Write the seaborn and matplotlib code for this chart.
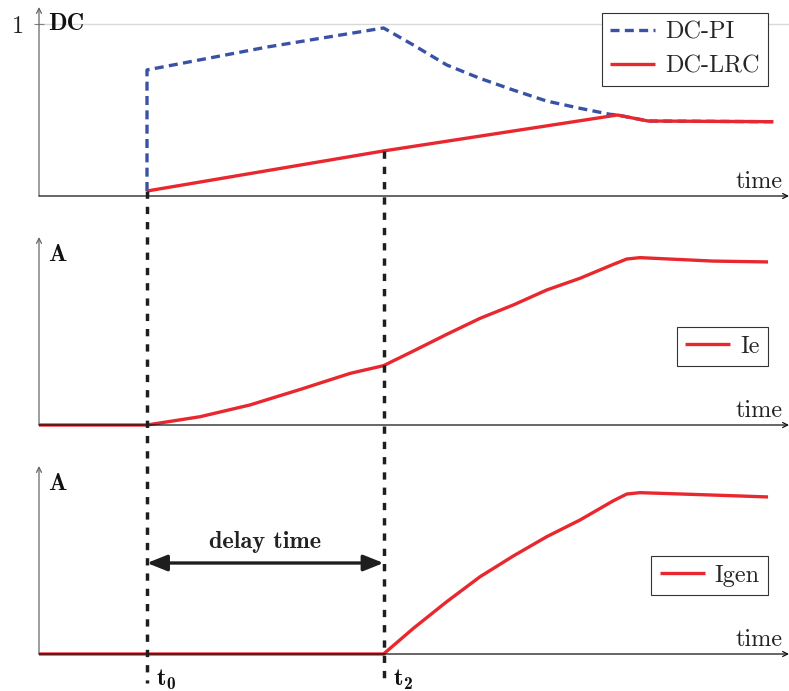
import matplotlib
matplotlib.use("Agg")
import matplotlib.pyplot as plt
import seaborn as sns

# ---- switching instants and time span (arbitrary time units) ----
t0 = 1.0
t2 = 3.19
t_end = 6.944

# ---- duty cycle ----
dc_pi_time = [1.0, 1.0, 2.11, 3.19, 3.466, 3.775, 4.083, 4.392, 4.701, 5.009,
              5.287, 5.355, 5.64, 6.80]
dc_pi = [0.029, 0.733, 0.866, 0.977, 0.878, 0.762, 0.684, 0.616, 0.552, 0.510,
         0.475, 0.471, 0.436, 0.432]
dc_lrc_time = [1.0, 3.19, 5.355, 5.64, 6.80]
dc_lrc = [0.029, 0.262, 0.471, 0.436, 0.432]

# ---- excitation current ----
ie_time = [0.0, 1.0, 1.49, 1.95, 2.42, 2.88, 3.19, 3.466, 3.775, 4.083, 4.392,
           4.701, 5.009, 5.318, 5.442, 5.565, 6.24, 6.75]
ie = [0.0, 0.0, 0.048, 0.116, 0.207, 0.300, 0.345, 0.430, 0.527, 0.620, 0.698,
      0.785, 0.853, 0.934, 0.965, 0.973, 0.953, 0.948]

# ---- generator current ----
igen_time = [0.0, 3.19, 3.466, 3.775, 4.083, 4.392, 4.701, 5.009, 5.318, 5.442,
             5.565, 6.24, 6.75]
igen = [0.0, 0.0, 0.149, 0.304, 0.449, 0.570, 0.682, 0.779, 0.891, 0.930,
        0.938, 0.924, 0.913]

# ---- text ----
dc_label = "DC"
amp_label = "A"
time_label = "time"
delay_label = "delay time"
instant_labels = [("t", "0"), ("t", "2")]

RED = "#e8282e"
BLUE = "#3a52a5"
DARK = "#1e1e1e"
FS = 17.5
LW = 2.4

sns.set_style("white")
plt.rcParams["font.family"] = ["cmr10", "DejaVu Serif"]
plt.rcParams["axes.formatter.use_mathtext"] = True

fig = plt.figure(figsize=(7.89, 6.91), dpi=100)
left, width = 39 / 789, 750 / 789
ax_dc = fig.add_axes([left, 0.71635, width, 0.27352])
ax_ie = fig.add_axes([left, 0.38495, width, 0.27207])
ax_ig = fig.add_axes([left, 0.05355, width, 0.27207])
axes = [ax_dc, ax_ie, ax_ig]

for ax, top in zip(axes, [1.099, 1.093, 1.093]):
    ax.set_xlim(0, t_end)
    ax.set_ylim(0, top)
    ax.set_facecolor("none")
    for s in ax.spines.values():
        s.set_visible(False)
    ax.set_xticks([])
    ax.set_yticks([])
    # arrowed axes
    ax.annotate("", xy=(0, 1), xytext=(0, 0), xycoords="axes fraction",
                arrowprops=dict(arrowstyle="->", lw=0.9, color="0.4",
                                shrinkA=0, shrinkB=0, mutation_scale=9))
    ax.annotate("", xy=(1, 0), xytext=(0, 0), xycoords="axes fraction",
                arrowprops=dict(arrowstyle="->", lw=0.9, color="#111111",
                                shrinkA=0, shrinkB=0, mutation_scale=9))
    ax.text(0.991, 0.042, time_label, transform=ax.transAxes, ha="right",
            va="baseline", fontsize=FS, color="#222222")

# ---- duty-cycle panel ----
ax_dc.axhline(1, color="0.85", lw=1.0, zorder=0)
ax_dc.set_yticks([1])
ax_dc.set_yticklabels(["1"], fontsize=FS, color="#222222")
ax_dc.tick_params(axis="y", direction="inout", length=7, width=0.8,
                  color="0.5", pad=7, left=True)
sns.lineplot(x=dc_pi_time, y=dc_pi, ax=ax_dc, color=BLUE, lw=LW,
             estimator=None, sort=False, label="DC-PI",
             linestyle=(0, (2.7, 1.6)), dash_capstyle="butt")
sns.lineplot(x=dc_lrc_time, y=dc_lrc, ax=ax_dc, color=RED, lw=LW,
             estimator=None, sort=False, label="DC-LRC",
             solid_capstyle="butt")
ax_dc.text(0.012, 0.91, dc_label, transform=ax_dc.transAxes, ha="left",
           va="center", fontsize=FS, family="cmb10", color="#111111")

# ---- current panels ----
sns.lineplot(x=ie_time, y=ie, ax=ax_ie, color=RED, lw=LW, estimator=None,
             sort=False, label="Ie", solid_capstyle="butt", clip_on=False)
sns.lineplot(x=igen_time, y=igen, ax=ax_ig, color=RED, lw=LW, estimator=None,
             sort=False, label="Igen", solid_capstyle="butt", clip_on=False)
for ax in (ax_ie, ax_ig):
    ax.text(0.012, 0.903, amp_label, transform=ax.transAxes, ha="left",
            va="center", fontsize=FS, family="cmb10", color="#111111")

# ---- legends ----
leg_kw = dict(loc="upper right", borderaxespad=0, fancybox=False,
              framealpha=1, edgecolor="#333333", handlelength=1.85,
              handletextpad=0.4, borderpad=0.35,
              prop={"family": "cmr10", "size": FS})
for ax, anchor, spacing in [(ax_dc, (0.972, 0.968), 0.5),
                            (ax_ie, (0.972, 0.521), 0.35),
                            (ax_ig, (0.972, 0.521), 0.35)]:
    leg = ax.legend(bbox_to_anchor=anchor, labelspacing=spacing, **leg_kw)
    leg.get_frame().set_linewidth(0.8)

# ---- switching instants: dashed markers running through all panels ----
# the top end sits on the DC-LRC curve; map it into the bottom panel's data
to_bottom = ax_ig.transData.inverted()
for t, start in [(t0, dc_lrc[0]), (t2, dc_lrc[1])]:
    y_top = to_bottom.transform(ax_dc.transData.transform((t, start)))[1]
    ax_ig.plot([t, t], [y_top, -0.17], color=DARK, lw=2.5,
               linestyle=(0, (2.1, 2.3)), dash_capstyle="butt",
               clip_on=False, zorder=10)

# bold labels with bold subscripts under each instant
for t, (base, sub) in zip([t0, t2], instant_labels):
    ax_ig.annotate(base, xy=(t, -0.18), xytext=(7, 0),
                   textcoords="offset points", ha="left", va="baseline",
                   fontsize=FS, family="cmb10", color="#111111",
                   annotation_clip=False)
    ax_ig.annotate(sub, xy=(t, -0.18), xytext=(13.8, -2.6),
                   textcoords="offset points", ha="left", va="baseline",
                   fontsize=12.5, family="cmb10", color="#111111",
                   annotation_clip=False)

# ---- delay arrow ----
ax_ig.annotate("", xy=(t0, 0.529), xytext=(t2, 0.529),
               arrowprops=dict(arrowstyle="<|-|>,head_length=0.55,head_width=0.22",
                               lw=LW, color=DARK, shrinkA=0, shrinkB=0,
                               mutation_scale=22))
ax_ig.text((t0 + t2) / 2, 0.651, delay_label, ha="center", va="center",
           fontsize=FS, family="cmb10", color="#222222")

fig.savefig("out.png", dpi=100)
